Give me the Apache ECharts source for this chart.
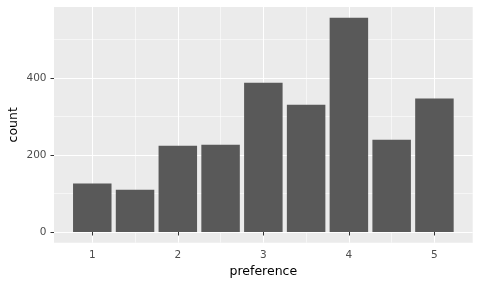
<!DOCTYPE html>
<html>
<head>
<meta charset="utf-8">
<script src="https://cdn.jsdelivr.net/npm/echarts@6/dist/echarts.min.js"></script>
<style>html,body{margin:0;padding:0;background:#fff}#c{width:480px;height:288px}</style>
</head>
<body>
<div id="c"></div>
<script>
const preference = [1, 1.5, 2, 2.5, 3, 3.5, 4, 4.5, 5];
const counts = [126, 110, 224, 227, 388, 331, 557, 240, 347];
const xTicks = [1, 2, 3, 4, 5];
const xMinor = [1.5, 2.5, 3.5, 4.5];
const yTicks = [0, 200, 400];
const yMinor = [100, 300, 500];

const BAR_W = 0.45;
const xMin = 0.775 - 0.05 * 4.45, xMax = 5.225 + 0.05 * 4.45;
const yTop = Math.max(...counts);
const yMin = -0.05 * yTop, yMax = yTop * 1.05;

const chart = echarts.init(document.getElementById('c'), null, {renderer: 'canvas'});
const font = '"DejaVu Sans", "Liberation Sans", Arial, sans-serif';
const grid = {left: 54, top: 7, right: 7.3, bottom: 45.3, show: true, backgroundColor: '#EBEBEB', borderWidth: 0,
              containLabel: false, outerBoundsMode: 'none'};
chart.setOption({
  animation: false,
  grid: grid,
  xAxis: [{
    type: 'value', min: xMin, max: xMax, gridIndex: 0,
    axisLine: {show: false},
    axisTick: {show: true, length: 3.5, lineStyle: {color: '#333333', width: 1}, customValues: xTicks},
    axisLabel: {customValues: xTicks, color: '#4D4D4D', fontSize: 10.5, fontFamily: font, margin: 7.5},
    splitLine: {show: true, lineStyle: {color: '#FFFFFF', width: 1.1}},
    name: 'preference', nameLocation: 'middle', nameGap: 22.5, nameMoveOverlap: false,
    nameTextStyle: {color: '#000', fontSize: 12.5, fontFamily: font}
  }, {
    type: 'value', min: xMin, max: xMax, gridIndex: 0, position: 'bottom',
    axisLine: {show: false},
    axisTick: {show: false, customValues: xMinor},
    axisLabel: {show: false, customValues: xMinor},
    splitLine: {show: true, lineStyle: {color: '#FFFFFF', width: 0.55}}
  }],
  yAxis: [{
    type: 'value', min: yMin, max: yMax, gridIndex: 0,
    axisLine: {show: false},
    axisTick: {show: true, length: 3.5, lineStyle: {color: '#333333', width: 1}, customValues: yTicks},
    axisLabel: {customValues: yTicks, color: '#4D4D4D', fontSize: 10.5, fontFamily: font, margin: 7.5},
    splitLine: {show: true, lineStyle: {color: '#FFFFFF', width: 1.1}},
    name: 'count', nameLocation: 'middle', nameGap: 34, nameMoveOverlap: false,
    nameTextStyle: {color: '#000', fontSize: 12.5, fontFamily: font}
  }, {
    type: 'value', min: yMin, max: yMax, gridIndex: 0, position: 'left',
    axisLine: {show: false},
    axisTick: {show: false, customValues: yMinor},
    axisLabel: {show: false, customValues: yMinor},
    splitLine: {show: true, lineStyle: {color: '#FFFFFF', width: 0.55}}
  }],
  series: [{
    type: 'custom',
    xAxisIndex: 0, yAxisIndex: 0,
    data: preference.map((p, i) => [p, counts[i]]),
    renderItem: function (params, api) {
      const x = api.value(0), y = api.value(1);
      const p0 = api.coord([x - BAR_W / 2, y]);
      const p1 = api.coord([x + BAR_W / 2, 0]);
      return {type: 'rect', shape: {x: p0[0], y: p0[1], width: p1[0] - p0[0], height: p1[1] - p0[1]},
              style: {fill: '#595959'}};
    }
  }]
});
</script>
</body>
</html>
